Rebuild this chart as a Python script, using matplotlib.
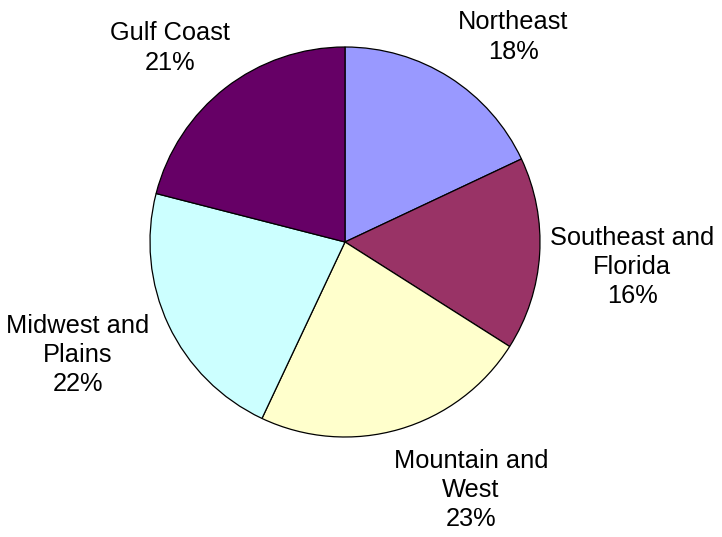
import matplotlib
matplotlib.use("Agg")
import matplotlib.pyplot as plt

regions = ["Northeast", "Southeast and\nFlorida", "Mountain and\nWest", "Midwest and\nPlains", "Gulf Coast"]
shares = [18, 16, 23, 22, 21]
colors = ["#9999FF", "#993366", "#FFFFCC", "#CCFFFF", "#660066"]

# label anchor positions (in pie-radius units)
label_pos = [(0.862, 1.051), (1.472, -0.128), (0.646, -1.272), (-1.369, -0.579), (-0.897, 0.995)]

fig = plt.figure(figsize=(7.22, 5.37), dpi=100)
ax = fig.add_axes([0, 0, 1, 1])
R = 195.0
cx, cy = 345.0, 242.0

ax.pie(shares, colors=colors, startangle=90, counterclock=False, radius=1.0,
       center=(0, 0), frame=True,
       wedgeprops=dict(edgecolor="black", linewidth=0.9))
ax.set_xlim(-cx / R, (722 - cx) / R)
ax.set_ylim(-(537 - cy) / R, cy / R)
ax.set_aspect("auto")
ax.axis("off")

for name, s, (x, y) in zip(regions, shares, label_pos):
    ax.text(x, y, f"{name}\n{s}%", ha="center", va="center", fontsize=18.3,
            family=["Liberation Sans", "DejaVu Sans"], linespacing=1.28)

fig.savefig("out.png", dpi=100)
